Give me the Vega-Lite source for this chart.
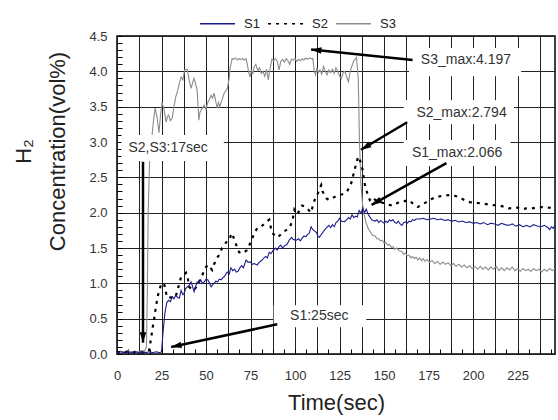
{
 "$schema": "https://vega.github.io/schema/vega-lite/v6.json",
 "width": 438,
 "height": 318,
 "autosize": {"type": "none"},
 "padding": {"left": 117, "top": 36, "right": 3, "bottom": 66},
 "background": "white",
 "config": {
  "font": "Liberation Sans",
  "view": {"stroke": "#000", "strokeWidth": 1.5},
  "axis": {"domain": false, "labelFont": "Liberation Sans", "labelFontSize": 13, "labelColor": "#333", "titleFont": "Liberation Sans", "titleFontSize": 22, "titleFontWeight": "normal", "titleColor": "#222", "gridColor": "#222", "gridWidth": 1, "tickColor": "#000", "tickSize": -5, "tickWidth": 1, "labelOverlap": false}
 },
 "datasets": {
  "series": [
   {"series":"S3","time":0,"conc":0.03},{"series":"S3","time":2,"conc":0.04},{"series":"S3","time":4,"conc":0.03},{"series":"S3","time":6,"conc":0.05},{"series":"S3","time":8,"conc":0.03},{"series":"S3","time":10,"conc":0.04},{"series":"S3","time":12,"conc":0.03},{"series":"S3","time":14,"conc":0.05},{"series":"S3","time":15.5,"conc":0.04},{"series":"S3","time":16.5,"conc":0.1},{"series":"S3","time":17,"conc":0.8},{"series":"S3","time":17.5,"conc":2.0},{"series":"S3","time":18.5,"conc":2.9},{"series":"S3","time":19.5,"conc":3.05},{"series":"S3","time":20.5,"conc":3.3},{"series":"S3","time":21.4,"conc":3.48},{"series":"S3","time":22.5,"conc":3.35},{"series":"S3","time":23.6,"conc":3.13},{"series":"S3","time":24.5,"conc":3.4},{"series":"S3","time":25.3,"conc":3.56},{"series":"S3","time":26.5,"conc":3.45},{"series":"S3","time":27.6,"conc":3.28},{"series":"S3","time":28.3,"conc":3.36},{"series":"S3","time":29,"conc":3.38},{"series":"S3","time":30,"conc":3.3},{"series":"S3","time":31,"conc":3.34},{"series":"S3","time":32,"conc":3.5},{"series":"S3","time":33,"conc":3.64},{"series":"S3","time":34,"conc":3.72},{"series":"S3","time":35,"conc":3.83},{"series":"S3","time":36,"conc":3.92},{"series":"S3","time":37,"conc":3.88},{"series":"S3","time":38,"conc":4.02},{"series":"S3","time":39.4,"conc":4.03},{"series":"S3","time":40.5,"conc":3.88},{"series":"S3","time":41.6,"conc":3.76},{"series":"S3","time":42.5,"conc":3.84},{"series":"S3","time":43.3,"conc":3.9},{"series":"S3","time":44.2,"conc":3.82},{"series":"S3","time":45,"conc":3.73},{"series":"S3","time":46,"conc":3.31},{"series":"S3","time":46.6,"conc":3.42},{"series":"S3","time":47.2,"conc":3.45},{"series":"S3","time":48,"conc":3.48},{"series":"S3","time":49,"conc":3.52},{"series":"S3","time":50,"conc":3.46},{"series":"S3","time":50.8,"conc":3.55},{"series":"S3","time":51.7,"conc":3.59},{"series":"S3","time":52.9,"conc":3.66},{"series":"S3","time":53.7,"conc":3.62},{"series":"S3","time":54.5,"conc":3.69},{"series":"S3","time":55.3,"conc":3.6},{"series":"S3","time":56.2,"conc":3.48},{"series":"S3","time":57,"conc":3.56},{"series":"S3","time":57.8,"conc":3.5},{"series":"S3","time":58.5,"conc":3.56},{"series":"S3","time":59.3,"conc":3.62},{"series":"S3","time":60.2,"conc":3.69},{"series":"S3","time":61,"conc":3.72},{"series":"S3","time":62,"conc":3.76},{"series":"S3","time":63,"conc":3.9},{"series":"S3","time":63.6,"conc":4.06},{"series":"S3","time":64.7,"conc":4.18},{"series":"S3","time":65.5,"conc":4.17},{"series":"S3","time":66.5,"conc":4.19},{"series":"S3","time":67.5,"conc":4.16},{"series":"S3","time":68.5,"conc":4.18},{"series":"S3","time":69.5,"conc":4.17},{"series":"S3","time":70.5,"conc":4.18},{"series":"S3","time":71.5,"conc":4.16},{"series":"S3","time":72.5,"conc":4.18},{"series":"S3","time":73.2,"conc":4.1},{"series":"S3","time":74,"conc":3.98},{"series":"S3","time":74.8,"conc":3.92},{"series":"S3","time":75.5,"conc":4.02},{"series":"S3","time":76.3,"conc":3.96},{"series":"S3","time":77,"conc":4.06},{"series":"S3","time":78,"conc":4.1},{"series":"S3","time":79,"conc":4.01},{"series":"S3","time":80,"conc":4.05},{"series":"S3","time":81,"conc":3.97},{"series":"S3","time":82,"conc":4.0},{"series":"S3","time":83,"conc":3.93},{"series":"S3","time":84,"conc":4.03},{"series":"S3","time":85,"conc":3.88},{"series":"S3","time":86,"conc":4.05},{"series":"S3","time":87,"conc":4.17},{"series":"S3","time":88,"conc":4.15},{"series":"S3","time":89,"conc":4.18},{"series":"S3","time":90,"conc":4.14},{"series":"S3","time":91,"conc":4.02},{"series":"S3","time":92,"conc":4.14},{"series":"S3","time":93,"conc":4.17},{"series":"S3","time":94,"conc":4.13},{"series":"S3","time":95,"conc":4.18},{"series":"S3","time":96,"conc":4.15},{"series":"S3","time":97,"conc":4.1},{"series":"S3","time":98,"conc":4.17},{"series":"S3","time":99,"conc":4.16},{"series":"S3","time":100,"conc":4.18},{"series":"S3","time":101,"conc":4.14},{"series":"S3","time":102,"conc":4.17},{"series":"S3","time":103,"conc":4.15},{"series":"S3","time":104,"conc":4.18},{"series":"S3","time":105,"conc":4.16},{"series":"S3","time":106,"conc":4.19},{"series":"S3","time":107,"conc":4.17},{"series":"S3","time":108,"conc":4.19},{"series":"S3","time":109,"conc":4.18},{"series":"S3","time":110,"conc":4.18},{"series":"S3","time":110.8,"conc":4.0},{"series":"S3","time":111.5,"conc":3.95},{"series":"S3","time":112.3,"conc":4.05},{"series":"S3","time":113,"conc":3.98},{"series":"S3","time":114,"conc":4.02},{"series":"S3","time":115,"conc":3.96},{"series":"S3","time":116,"conc":4.07},{"series":"S3","time":117,"conc":4.0},{"series":"S3","time":118,"conc":3.95},{"series":"S3","time":119,"conc":4.02},{"series":"S3","time":120,"conc":3.98},{"series":"S3","time":121,"conc":4.03},{"series":"S3","time":122,"conc":3.97},{"series":"S3","time":123,"conc":4.05},{"series":"S3","time":124,"conc":4.0},{"series":"S3","time":125,"conc":3.93},{"series":"S3","time":126,"conc":3.9},{"series":"S3","time":127,"conc":3.98},{"series":"S3","time":128,"conc":4.0},{"series":"S3","time":129,"conc":3.92},{"series":"S3","time":130,"conc":3.85},{"series":"S3","time":131,"conc":4.0},{"series":"S3","time":132,"conc":4.08},{"series":"S3","time":133,"conc":4.15},{"series":"S3","time":134.5,"conc":4.197},{"series":"S3","time":135.5,"conc":3.9},{"series":"S3","time":136.2,"conc":3.0},{"series":"S3","time":137,"conc":2.4},{"series":"S3","time":138,"conc":2.1},{"series":"S3","time":139,"conc":1.95},{"series":"S3","time":140,"conc":1.85},{"series":"S3","time":141,"conc":1.78},{"series":"S3","time":142,"conc":1.74},{"series":"S3","time":143.5,"conc":1.68},{"series":"S3","time":145,"conc":1.67},{"series":"S3","time":146,"conc":1.63},{"series":"S3","time":147,"conc":1.63},{"series":"S3","time":148,"conc":1.6},{"series":"S3","time":149,"conc":1.61},{"series":"S3","time":150,"conc":1.57},{"series":"S3","time":151,"conc":1.58},{"series":"S3","time":152,"conc":1.54},{"series":"S3","time":153,"conc":1.55},{"series":"S3","time":154,"conc":1.51},{"series":"S3","time":155,"conc":1.52},{"series":"S3","time":156,"conc":1.48},{"series":"S3","time":157,"conc":1.5},{"series":"S3","time":158.6,"conc":1.46},{"series":"S3","time":160,"conc":1.45},{"series":"S3","time":161,"conc":1.41},{"series":"S3","time":162,"conc":1.43},{"series":"S3","time":163,"conc":1.39},{"series":"S3","time":164,"conc":1.4},{"series":"S3","time":165,"conc":1.36},{"series":"S3","time":166,"conc":1.38},{"series":"S3","time":167,"conc":1.35},{"series":"S3","time":168,"conc":1.37},{"series":"S3","time":169,"conc":1.33},{"series":"S3","time":170,"conc":1.36},{"series":"S3","time":171,"conc":1.32},{"series":"S3","time":172,"conc":1.35},{"series":"S3","time":173,"conc":1.31},{"series":"S3","time":174,"conc":1.34},{"series":"S3","time":175.5,"conc":1.3},{"series":"S3","time":177,"conc":1.32},{"series":"S3","time":178.5,"conc":1.28},{"series":"S3","time":180,"conc":1.31},{"series":"S3","time":181.5,"conc":1.27},{"series":"S3","time":183,"conc":1.3},{"series":"S3","time":184.5,"conc":1.27},{"series":"S3","time":186,"conc":1.29},{"series":"S3","time":187.5,"conc":1.25},{"series":"S3","time":189,"conc":1.28},{"series":"S3","time":190.5,"conc":1.24},{"series":"S3","time":192,"conc":1.27},{"series":"S3","time":193.5,"conc":1.23},{"series":"S3","time":195,"conc":1.26},{"series":"S3","time":196.5,"conc":1.22},{"series":"S3","time":198,"conc":1.25},{"series":"S3","time":199.5,"conc":1.21},{"series":"S3","time":201,"conc":1.24},{"series":"S3","time":202.5,"conc":1.2},{"series":"S3","time":204,"conc":1.24},{"series":"S3","time":205.5,"conc":1.2},{"series":"S3","time":207,"conc":1.23},{"series":"S3","time":208.5,"conc":1.19},{"series":"S3","time":210,"conc":1.23},{"series":"S3","time":211.5,"conc":1.2},{"series":"S3","time":213,"conc":1.24},{"series":"S3","time":214.5,"conc":1.18},{"series":"S3","time":216,"conc":1.22},{"series":"S3","time":217.5,"conc":1.18},{"series":"S3","time":219,"conc":1.22},{"series":"S3","time":220.5,"conc":1.19},{"series":"S3","time":222,"conc":1.23},{"series":"S3","time":223.5,"conc":1.18},{"series":"S3","time":225,"conc":1.21},{"series":"S3","time":226.5,"conc":1.17},{"series":"S3","time":228,"conc":1.21},{"series":"S3","time":229.5,"conc":1.18},{"series":"S3","time":231,"conc":1.2},{"series":"S3","time":232.5,"conc":1.17},{"series":"S3","time":234,"conc":1.21},{"series":"S3","time":235.5,"conc":1.18},{"series":"S3","time":237,"conc":1.2},{"series":"S3","time":238.5,"conc":1.16},{"series":"S3","time":240,"conc":1.2},{"series":"S3","time":241.5,"conc":1.17},{"series":"S3","time":243,"conc":1.21},{"series":"S3","time":244.5,"conc":1.18},{"series":"S3","time":246,"conc":1.21},{"series":"S3","time":247,"conc":1.2},
   {"series":"S2","time":0,"conc":0.03},{"series":"S2","time":3,"conc":0.02},{"series":"S2","time":6,"conc":0.03},{"series":"S2","time":9,"conc":0.02},{"series":"S2","time":12,"conc":0.03},{"series":"S2","time":15,"conc":0.02},{"series":"S2","time":17,"conc":0.03},{"series":"S2","time":18,"conc":0.05},{"series":"S2","time":19,"conc":0.2},{"series":"S2","time":20,"conc":0.37},{"series":"S2","time":21,"conc":0.52},{"series":"S2","time":22,"conc":0.69},{"series":"S2","time":23,"conc":0.83},{"series":"S2","time":24,"conc":0.92},{"series":"S2","time":24.7,"conc":0.98},{"series":"S2","time":25.5,"conc":1.0},{"series":"S2","time":26.4,"conc":1.0},{"series":"S2","time":27,"conc":0.93},{"series":"S2","time":27.6,"conc":0.86},{"series":"S2","time":28.3,"conc":0.8},{"series":"S2","time":29,"conc":0.79},{"series":"S2","time":30,"conc":0.8},{"series":"S2","time":31,"conc":0.8},{"series":"S2","time":32,"conc":0.79},{"series":"S2","time":33,"conc":0.82},{"series":"S2","time":34,"conc":0.9},{"series":"S2","time":35,"conc":1.0},{"series":"S2","time":36,"conc":1.09},{"series":"S2","time":37,"conc":1.11},{"series":"S2","time":38,"conc":1.13},{"series":"S2","time":38.8,"conc":1.15},{"series":"S2","time":39.6,"conc":1.1},{"series":"S2","time":40.5,"conc":0.95},{"series":"S2","time":41.5,"conc":0.93},{"series":"S2","time":42.5,"conc":0.91},{"series":"S2","time":43.3,"conc":0.9},{"series":"S2","time":44.5,"conc":0.95},{"series":"S2","time":46,"conc":1.02},{"series":"S2","time":47,"conc":1.07},{"series":"S2","time":48,"conc":1.12},{"series":"S2","time":49,"conc":1.19},{"series":"S2","time":50.3,"conc":1.24},{"series":"S2","time":51.7,"conc":1.26},{"series":"S2","time":52.5,"conc":1.22},{"series":"S2","time":53.4,"conc":1.19},{"series":"S2","time":54.5,"conc":1.27},{"series":"S2","time":55.7,"conc":1.33},{"series":"S2","time":56.5,"conc":1.37},{"series":"S2","time":57.4,"conc":1.4},{"series":"S2","time":58.2,"conc":1.45},{"series":"S2","time":59,"conc":1.5},{"series":"S2","time":60.2,"conc":1.54},{"series":"S2","time":61.3,"conc":1.58},{"series":"S2","time":62,"conc":1.6},{"series":"S2","time":63,"conc":1.61},{"series":"S2","time":64,"conc":1.68},{"series":"S2","time":64.7,"conc":1.71},{"series":"S2","time":65.8,"conc":1.62},{"series":"S2","time":67,"conc":1.54},{"series":"S2","time":68,"conc":1.47},{"series":"S2","time":68.6,"conc":1.44},{"series":"S2","time":69.5,"conc":1.43},{"series":"S2","time":70.3,"conc":1.42},{"series":"S2","time":71.5,"conc":1.44},{"series":"S2","time":73,"conc":1.47},{"series":"S2","time":74,"conc":1.52},{"series":"S2","time":75,"conc":1.58},{"series":"S2","time":76,"conc":1.64},{"series":"S2","time":77,"conc":1.7},{"series":"S2","time":78.7,"conc":1.78},{"series":"S2","time":80,"conc":1.79},{"series":"S2","time":81,"conc":1.8},{"series":"S2","time":82.5,"conc":1.84},{"series":"S2","time":83.8,"conc":1.87},{"series":"S2","time":85.5,"conc":1.9},{"series":"S2","time":86.3,"conc":1.8},{"series":"S2","time":87,"conc":1.72},{"series":"S2","time":88.5,"conc":1.68},{"series":"S2","time":90,"conc":1.65},{"series":"S2","time":91.5,"conc":1.68},{"series":"S2","time":92.8,"conc":1.72},{"series":"S2","time":94.8,"conc":1.75},{"series":"S2","time":96.7,"conc":1.78},{"series":"S2","time":98.4,"conc":1.87},{"series":"S2","time":99.6,"conc":2.04},{"series":"S2","time":101,"conc":1.97},{"series":"S2","time":102.5,"conc":2.03},{"series":"S2","time":104,"conc":2.1},{"series":"S2","time":106,"conc":2.08},{"series":"S2","time":107.5,"conc":2.04},{"series":"S2","time":109,"conc":2.0},{"series":"S2","time":110,"conc":2.1},{"series":"S2","time":111,"conc":2.18},{"series":"S2","time":112.5,"conc":2.25},{"series":"S2","time":113.6,"conc":2.33},{"series":"S2","time":114.7,"conc":2.39},{"series":"S2","time":115.5,"conc":2.3},{"series":"S2","time":116.4,"conc":2.25},{"series":"S2","time":117.7,"conc":2.2},{"series":"S2","time":119,"conc":2.18},{"series":"S2","time":120.5,"conc":2.2},{"series":"S2","time":122,"conc":2.22},{"series":"S2","time":123.5,"conc":2.24},{"series":"S2","time":125,"conc":2.25},{"series":"S2","time":126.5,"conc":2.26},{"series":"S2","time":127.7,"conc":2.27},{"series":"S2","time":129,"conc":2.29},{"series":"S2","time":130.3,"conc":2.35},{"series":"S2","time":131.6,"conc":2.42},{"series":"S2","time":133,"conc":2.56},{"series":"S2","time":134.4,"conc":2.7},{"series":"S2","time":135.5,"conc":2.794},{"series":"S2","time":136.3,"conc":2.75},{"series":"S2","time":137,"conc":2.7},{"series":"S2","time":138,"conc":2.6},{"series":"S2","time":139,"conc":2.42},{"series":"S2","time":140,"conc":2.32},{"series":"S2","time":141,"conc":2.24},{"series":"S2","time":142,"conc":2.18},{"series":"S2","time":143.5,"conc":2.22},{"series":"S2","time":145,"conc":2.18},{"series":"S2","time":147,"conc":2.16},{"series":"S2","time":149,"conc":2.14},{"series":"S2","time":151,"conc":2.13},{"series":"S2","time":153,"conc":2.11},{"series":"S2","time":155,"conc":2.1},{"series":"S2","time":157,"conc":2.13},{"series":"S2","time":158.6,"conc":2.15},{"series":"S2","time":161,"conc":2.16},{"series":"S2","time":164,"conc":2.18},{"series":"S2","time":166.5,"conc":2.12},{"series":"S2","time":169,"conc":2.08},{"series":"S2","time":171.5,"conc":2.12},{"series":"S2","time":174,"conc":2.15},{"series":"S2","time":176.5,"conc":2.19},{"series":"S2","time":179,"conc":2.22},{"series":"S2","time":183,"conc":2.24},{"series":"S2","time":187,"conc":2.25},{"series":"S2","time":189.5,"conc":2.24},{"series":"S2","time":192,"conc":2.22},{"series":"S2","time":195,"conc":2.18},{"series":"S2","time":198,"conc":2.15},{"series":"S2","time":201,"conc":2.14},{"series":"S2","time":205,"conc":2.13},{"series":"S2","time":210,"conc":2.11},{"series":"S2","time":215,"conc":2.1},{"series":"S2","time":218,"conc":2.08},{"series":"S2","time":220,"conc":2.06},{"series":"S2","time":223,"conc":2.07},{"series":"S2","time":225,"conc":2.07},{"series":"S2","time":228,"conc":2.05},{"series":"S2","time":230,"conc":2.06},{"series":"S2","time":233,"conc":2.06},{"series":"S2","time":235,"conc":2.07},{"series":"S2","time":239,"conc":2.08},{"series":"S2","time":243,"conc":2.07},{"series":"S2","time":247,"conc":2.08},
   {"series":"S1","time":0,"conc":0.02},{"series":"S1","time":2,"conc":0.03},{"series":"S1","time":4,"conc":0.02},{"series":"S1","time":6,"conc":0.03},{"series":"S1","time":8,"conc":0.02},{"series":"S1","time":10,"conc":0.03},{"series":"S1","time":12,"conc":0.02},{"series":"S1","time":14,"conc":0.03},{"series":"S1","time":16,"conc":0.02},{"series":"S1","time":18,"conc":0.03},{"series":"S1","time":20,"conc":0.02},{"series":"S1","time":22,"conc":0.03},{"series":"S1","time":24,"conc":0.02},{"series":"S1","time":25,"conc":0.03},{"series":"S1","time":26,"conc":0.35},{"series":"S1","time":27,"conc":0.6},{"series":"S1","time":28,"conc":0.73},{"series":"S1","time":29,"conc":0.76},{"series":"S1","time":30,"conc":0.74},{"series":"S1","time":31,"conc":0.81},{"series":"S1","time":32,"conc":0.78},{"series":"S1","time":33,"conc":0.83},{"series":"S1","time":34,"conc":0.8},{"series":"S1","time":35,"conc":0.79},{"series":"S1","time":36,"conc":0.9},{"series":"S1","time":37,"conc":0.84},{"series":"S1","time":37.7,"conc":0.86},{"series":"S1","time":38.5,"conc":0.92},{"series":"S1","time":39.4,"conc":0.95},{"series":"S1","time":40.5,"conc":0.97},{"series":"S1","time":41.6,"conc":1.02},{"series":"S1","time":42.5,"conc":0.95},{"series":"S1","time":43.3,"conc":0.88},{"series":"S1","time":44.2,"conc":0.96},{"series":"S1","time":45,"conc":1.02},{"series":"S1","time":46,"conc":1.0},{"series":"S1","time":47,"conc":1.05},{"series":"S1","time":48,"conc":1.0},{"series":"S1","time":49,"conc":1.02},{"series":"S1","time":50,"conc":1.06},{"series":"S1","time":51,"conc":1.05},{"series":"S1","time":52,"conc":1.0},{"series":"S1","time":52.9,"conc":0.95},{"series":"S1","time":53.7,"conc":0.98},{"series":"S1","time":54.5,"conc":1.0},{"series":"S1","time":55.5,"conc":1.03},{"series":"S1","time":56.5,"conc":1.02},{"series":"S1","time":57.5,"conc":1.06},{"series":"S1","time":58.5,"conc":1.05},{"series":"S1","time":59.5,"conc":1.08},{"series":"S1","time":60.5,"conc":1.1},{"series":"S1","time":61.3,"conc":1.14},{"series":"S1","time":62,"conc":1.16},{"series":"S1","time":63,"conc":1.13},{"series":"S1","time":64,"conc":1.22},{"series":"S1","time":65,"conc":1.18},{"series":"S1","time":66,"conc":1.2},{"series":"S1","time":67,"conc":1.16},{"series":"S1","time":68,"conc":1.17},{"series":"S1","time":69,"conc":1.22},{"series":"S1","time":70,"conc":1.25},{"series":"S1","time":71,"conc":1.22},{"series":"S1","time":72.5,"conc":1.33},{"series":"S1","time":73.5,"conc":1.3},{"series":"S1","time":75,"conc":1.3},{"series":"S1","time":76,"conc":1.27},{"series":"S1","time":77,"conc":1.28},{"series":"S1","time":78.7,"conc":1.26},{"series":"S1","time":80,"conc":1.3},{"series":"S1","time":81.5,"conc":1.33},{"series":"S1","time":82.5,"conc":1.36},{"series":"S1","time":83.5,"conc":1.38},{"series":"S1","time":84.5,"conc":1.36},{"series":"S1","time":85.5,"conc":1.44},{"series":"S1","time":86.5,"conc":1.42},{"series":"S1","time":87.5,"conc":1.46},{"series":"S1","time":89,"conc":1.5},{"series":"S1","time":90,"conc":1.47},{"series":"S1","time":91,"conc":1.52},{"series":"S1","time":92,"conc":1.54},{"series":"S1","time":93,"conc":1.5},{"series":"S1","time":94,"conc":1.53},{"series":"S1","time":95.5,"conc":1.55},{"series":"S1","time":96.7,"conc":1.61},{"series":"S1","time":98,"conc":1.65},{"series":"S1","time":99,"conc":1.62},{"series":"S1","time":100.7,"conc":1.61},{"series":"S1","time":102,"conc":1.63},{"series":"S1","time":103,"conc":1.6},{"series":"S1","time":104,"conc":1.64},{"series":"S1","time":105,"conc":1.67},{"series":"S1","time":106,"conc":1.66},{"series":"S1","time":107,"conc":1.69},{"series":"S1","time":108,"conc":1.71},{"series":"S1","time":109,"conc":1.8},{"series":"S1","time":110,"conc":1.76},{"series":"S1","time":111,"conc":1.74},{"series":"S1","time":112,"conc":1.72},{"series":"S1","time":113,"conc":1.66},{"series":"S1","time":113.6,"conc":1.65},{"series":"S1","time":115,"conc":1.7},{"series":"S1","time":116.4,"conc":1.75},{"series":"S1","time":117.5,"conc":1.78},{"series":"S1","time":119,"conc":1.82},{"series":"S1","time":120,"conc":1.79},{"series":"S1","time":121,"conc":1.83},{"series":"S1","time":122,"conc":1.8},{"series":"S1","time":123,"conc":1.86},{"series":"S1","time":124,"conc":1.88},{"series":"S1","time":125,"conc":1.92},{"series":"S1","time":126,"conc":1.88},{"series":"S1","time":127.7,"conc":1.87},{"series":"S1","time":129,"conc":1.9},{"series":"S1","time":130,"conc":1.93},{"series":"S1","time":131,"conc":1.91},{"series":"S1","time":132,"conc":1.97},{"series":"S1","time":133,"conc":1.93},{"series":"S1","time":134,"conc":1.95},{"series":"S1","time":135,"conc":1.94},{"series":"S1","time":136,"conc":2.03},{"series":"S1","time":137,"conc":1.99},{"series":"S1","time":138,"conc":2.066},{"series":"S1","time":139,"conc":2.0},{"series":"S1","time":140,"conc":2.05},{"series":"S1","time":141,"conc":1.98},{"series":"S1","time":142,"conc":1.94},{"series":"S1","time":143,"conc":1.9},{"series":"S1","time":144,"conc":1.89},{"series":"S1","time":145,"conc":1.88},{"series":"S1","time":146,"conc":1.9},{"series":"S1","time":147,"conc":1.86},{"series":"S1","time":148,"conc":1.89},{"series":"S1","time":149,"conc":1.87},{"series":"S1","time":150,"conc":1.85},{"series":"S1","time":151,"conc":1.88},{"series":"S1","time":152,"conc":1.86},{"series":"S1","time":153,"conc":1.9},{"series":"S1","time":154,"conc":1.88},{"series":"S1","time":155,"conc":1.9},{"series":"S1","time":156,"conc":1.86},{"series":"S1","time":157,"conc":1.85},{"series":"S1","time":158,"conc":1.88},{"series":"S1","time":159,"conc":1.84},{"series":"S1","time":160,"conc":1.82},{"series":"S1","time":161,"conc":1.86},{"series":"S1","time":162,"conc":1.87},{"series":"S1","time":163,"conc":1.85},{"series":"S1","time":164,"conc":1.88},{"series":"S1","time":165,"conc":1.87},{"series":"S1","time":166,"conc":1.9},{"series":"S1","time":167,"conc":1.89},{"series":"S1","time":168,"conc":1.91},{"series":"S1","time":170,"conc":1.91},{"series":"S1","time":172,"conc":1.92},{"series":"S1","time":174,"conc":1.9},{"series":"S1","time":176,"conc":1.91},{"series":"S1","time":178,"conc":1.92},{"series":"S1","time":180,"conc":1.9},{"series":"S1","time":182,"conc":1.91},{"series":"S1","time":184,"conc":1.89},{"series":"S1","time":186,"conc":1.9},{"series":"S1","time":188,"conc":1.88},{"series":"S1","time":190,"conc":1.89},{"series":"S1","time":192,"conc":1.87},{"series":"S1","time":194,"conc":1.88},{"series":"S1","time":196,"conc":1.86},{"series":"S1","time":198,"conc":1.87},{"series":"S1","time":200,"conc":1.85},{"series":"S1","time":202,"conc":1.86},{"series":"S1","time":204,"conc":1.84},{"series":"S1","time":206,"conc":1.86},{"series":"S1","time":208,"conc":1.83},{"series":"S1","time":210,"conc":1.85},{"series":"S1","time":212,"conc":1.84},{"series":"S1","time":214,"conc":1.82},{"series":"S1","time":216,"conc":1.85},{"series":"S1","time":218,"conc":1.83},{"series":"S1","time":220,"conc":1.82},{"series":"S1","time":222,"conc":1.84},{"series":"S1","time":224,"conc":1.81},{"series":"S1","time":226,"conc":1.83},{"series":"S1","time":228,"conc":1.8},{"series":"S1","time":230,"conc":1.82},{"series":"S1","time":232,"conc":1.8},{"series":"S1","time":234,"conc":1.83},{"series":"S1","time":236,"conc":1.81},{"series":"S1","time":238,"conc":1.8},{"series":"S1","time":240,"conc":1.82},{"series":"S1","time":242,"conc":1.79},{"series":"S1","time":243,"conc":1.76},{"series":"S1","time":244,"conc":1.8},{"series":"S1","time":245,"conc":1.78},{"series":"S1","time":246,"conc":1.82}
  ],
  "boxes": [
   {"time":164,"time2":227,"conc":3.93,"conc2":4.33},
   {"time":161,"time2":223,"conc":3.25,"conc2":3.59},
   {"time":161,"time2":221,"conc":2.66,"conc2":3.03},
   {"time":2.5,"time2":60,"conc":2.73,"conc2":3.1},
   {"time":88,"time2":140,"conc":0.38,"conc2":0.69}
  ],
  "labels": [
   {"label":"S3_max:4.197","time":196,"conc":4.16},
   {"label":"S2_max:2.794","time":193.5,"conc":3.41},
   {"label":"S1_max:2.066","time":191,"conc":2.84},
   {"label":"S2,S3:17sec","time":28.7,"conc":2.91},
   {"label":"S1:25sec","time":113.6,"conc":0.54}
  ],
  "arrows": [
   {"time":109,"conc":4.31,"time2":166,"conc2":4.16},
   {"time":137,"conc":2.89,"time2":163,"conc2":3.28},
   {"time":143,"conc":2.11,"time2":185,"conc2":2.7},
   {"time":14.6,"conc":0.16,"time2":14.6,"conc2":2.72},
   {"time":30.4,"conc":0.1,"time2":90,"conc2":0.42}
  ]
 },
 "encoding": {
  "x": {"field": "time", "type": "quantitative", "title": "Time(sec)", "scale": {"domain": [0, 246], "nice": false, "zero": false},
   "axis": {"values": [0,6.25,12.5,18.75,25,31.25,37.5,43.75,50,56.25,62.5,68.75,75,81.25,87.5,93.75,100,106.25,112.5,118.75,125,131.25,137.5,143.75,150,156.25,162.5,168.75,175,181.25,187.5,193.75,200,206.25,212.5,218.75,225,231.25,237.5,243.75],
    "labelExpr": "abs(datum.value/25 - round(datum.value/25)) < 0.001 ? format(datum.value, 'd') : ''",
    "gridOpacity": {"condition": {"test": "abs(datum.value/12.5 - round(datum.value/12.5)) < 0.001", "value": 1}, "value": 0},
    "labelPadding": 20, "labelFlush": false, "titleY": 38, "titleBaseline": "top"}},
  "y": {"field": "conc", "type": "quantitative", "title": ["H₂", "Concentration(vol%)"], "scale": {"domain": [0, 4.5], "nice": false},
   "axis": {"values": [0,0.1,0.2,0.3,0.4,0.5,0.6,0.7,0.8,0.9,1,1.1,1.2,1.3,1.4,1.5,1.6,1.7,1.8,1.9,2,2.1,2.2,2.3,2.4,2.5,2.6,2.7,2.8,2.9,3,3.1,3.2,3.3,3.4,3.5,3.6,3.7,3.8,3.9,4,4.1,4.2,4.3,4.4,4.5],
    "labelExpr": "abs(datum.value*2 - round(datum.value*2)) < 0.001 ? format(datum.value, '.1f') : ''",
    "gridOpacity": {"condition": {"test": "abs(datum.value*2 - round(datum.value*2)) < 0.001", "value": 1}, "value": 0},
    "labelPadding": 15, "labelFlush": false, "titleX": -87, "titleY": 115, "titleBaseline": "alphabetic", "titleLineHeight": 34, "titleAngle": -90, "titleAlign": "center"}}
 },
 "layer": [
  {
   "data": {"name": "series"},
   "mark": {"type": "line", "clip": true, "interpolate": "linear"},
   "encoding": {
    "color": {"field": "series", "type": "nominal", "scale": {"domain": ["S1", "S2", "S3"], "range": ["#1c1c8c", "#000000", "#8c8c8c"]},
     "legend": {"title": null, "orient": "none", "legendX": 82, "legendY": -31, "direction": "horizontal", "symbolType": "stroke", "symbolSize": 1225, "symbolStrokeWidth": 1.5, "labelFontSize": 13, "labelColor": "#222", "labelOffset": 8, "columnPadding": 5}},
    "strokeDash": {"field": "series", "type": "nominal", "scale": {"domain": ["S1", "S2", "S3"], "range": [[1, 0], [3, 5], [1, 0]]},
     "legend": {"title": null, "orient": "none", "legendX": 82, "legendY": -31, "direction": "horizontal", "symbolType": "stroke", "symbolSize": 1225, "symbolStrokeWidth": 1.5, "labelFontSize": 13, "labelColor": "#222", "labelOffset": 8, "columnPadding": 5}},
    "strokeWidth": {"condition": {"test": "datum.series === 'S2'", "value": 2.2}, "value": 1.1}
   }
  },
  {
   "data": {"name": "boxes"},
   "mark": {"type": "rect", "fill": "white", "stroke": null},
   "encoding": {"x2": {"field": "time2"}, "y2": {"field": "conc2"}}
  },
  {
   "data": {"name": "labels"},
   "mark": {"type": "text", "font": "Liberation Sans", "fontSize": 14, "color": "#333", "align": "center", "baseline": "middle"},
   "encoding": {"text": {"field": "label"}}
  },
  {
   "data": {"name": "arrows"},
   "mark": {"type": "rule", "color": "#000", "strokeWidth": 2.5, "strokeCap": "butt"},
   "encoding": {"x2": {"field": "time2"}, "y2": {"field": "conc2"}}
  },
  {
   "data": {"name": "arrows"},
   "mark": {"type": "point", "shape": "M0,0L0.8,2.6L-0.8,2.6Z", "size": 64, "filled": true, "color": "#000", "opacity": 1, "strokeWidth": 0,
    "angle": {"expr": "atan2(scale('y', datum.conc) - scale('y', datum.conc2), scale('x', datum.time) - scale('x', datum.time2)) * 180 / PI + 90"}}
  }
 ]
}
